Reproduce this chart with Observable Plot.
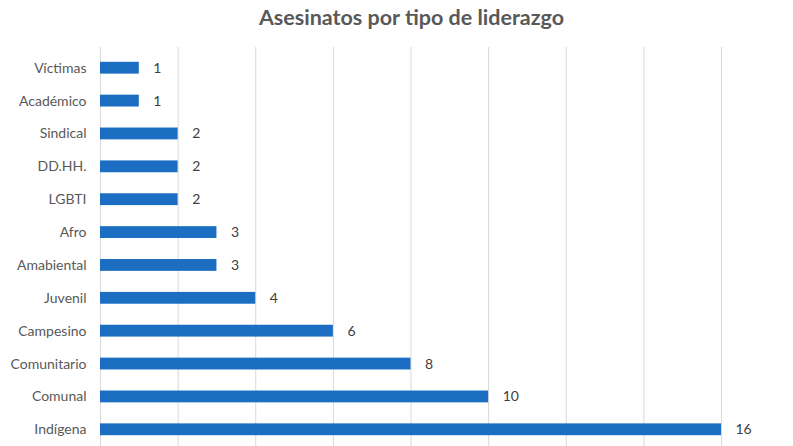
<!DOCTYPE html>
<html>
<head>
<meta charset="utf-8">
<script src="https://cdn.jsdelivr.net/npm/d3@7"></script>
<script src="https://cdn.jsdelivr.net/npm/@observablehq/plot@0.6"></script>
<style>
  html, body { margin: 0; background: #fff; font-family: Lato, "Open Sans", sans-serif; height: 446px; overflow: hidden; }
  #title { height: 40px; line-height: 34px; text-align: center; font-size: 21.5px; font-weight: bold; color: #595959; padding-left: 30px; }
  #chart svg { display: block; }
</style>
</head>
<body>
<div id="title">Asesinatos por tipo de liderazgo</div>
<div id="chart"></div>
<script>
const categories = ["Víctimas", "Académico", "Sindical", "DD.HH.", "LGBTI", "Afro", "Amabiental", "Juvenil", "Campesino", "Comunitario", "Comunal", "Indígena"];
const values = [1, 1, 2, 2, 2, 3, 3, 4, 6, 8, 10, 16];
const xTicks = [0, 2, 4, 6, 8, 10, 12, 14, 16];

const data = categories.map((c, i) => ({ category: c, value: values[i] }));

const chart = Plot.plot({
  width: 793,
  height: 410,
  marginLeft: 100,
  marginRight: 72,
  marginTop: 7,
  marginBottom: 0,
  style: { fontFamily: "Lato, 'Open Sans', sans-serif", fontSize: "14px", color: "#595959", background: "#fff" },
  x: { domain: [0, 16], ticks: xTicks, axis: null },
  y: { domain: categories, paddingInner: 0.64, paddingOuter: 0.45, round: false, label: null },
  marks: [
    Plot.gridX(xTicks, { stroke: "#d9d9d9", strokeOpacity: 1 }),
    Plot.barX(data, { x: "value", y: "category", fill: "#1b6ec2" }),
    Plot.text(data, { x: "value", y: "category", text: d => String(d.value), dx: 14, textAnchor: "start", fill: "#404040", fontSize: 14 }),
    Plot.axisY({ tickSize: 0, tickPadding: 14, fontSize: 14, fill: "#595959", label: null })
  ]
});
document.getElementById("chart").appendChild(chart);
</script>
</body>
</html>
